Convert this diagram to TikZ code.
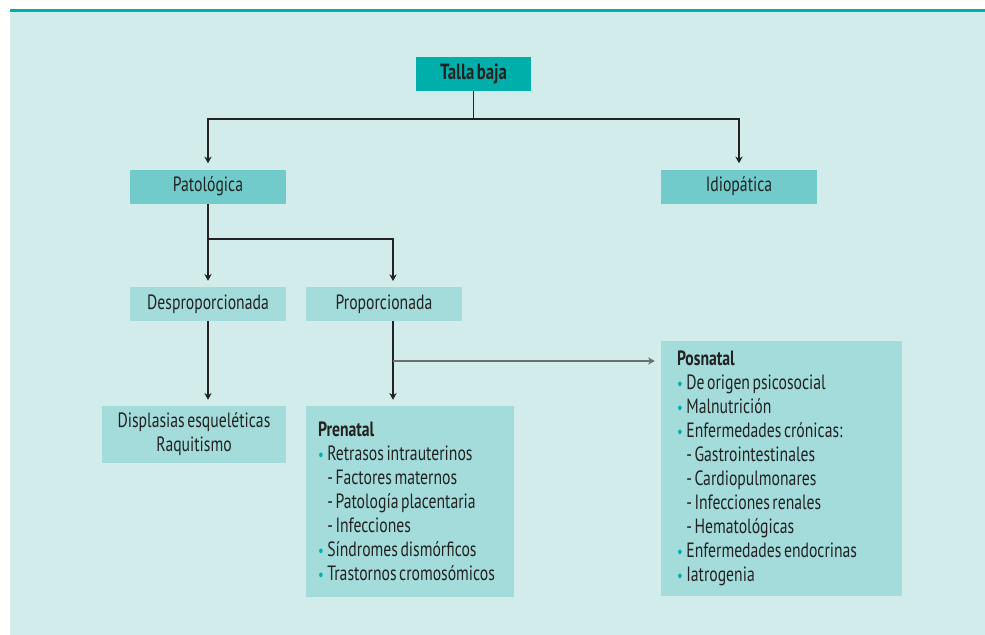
\documentclass[tikz,border=0pt]{standalone}
\usepackage{fontspec}
\setmainfont[FakeStretch=0.76,WordSpace=0.6]{PT Sans}
\usetikzlibrary{arrows.meta,positioning}
\definecolor{panel}{HTML}{D2ECEC}
\definecolor{tealdk}{HTML}{00AFAA}
\definecolor{boxmd}{HTML}{72CBCB}
\definecolor{boxlt}{HTML}{A3DCDA}
\definecolor{ink}{HTML}{222222}
\newcommand\itm[1]{\makebox[7pt][l]{\textcolor{tealdk}{\raisebox{0.3pt}{\fontsize{12.5}{12}\selectfont\textbullet}}}#1}
\newcommand\subitm[1]{\hspace*{7pt}- #1}

\begin{document}
\begin{tikzpicture}[x=0.75pt,y=-0.75pt,
  box/.style={fill=boxlt, text=ink, inner sep=0pt, minimum width=117pt, minimum height=25.5pt,
    font=\fontsize{15.5}{18}\selectfont},
  topbox/.style={box, fill=boxmd},
  listbox/.style={box, align=left},
  conn/.style={draw=ink, line width=0.8pt, -{Stealth[length=5pt,width=5.5pt]}, shorten >=4.5pt},
  line/.style={draw=ink, line width=0.8pt}]
\useasboundingbox (0,0) rectangle (985,635);
\fill[panel] (10,9) rectangle (985,635);
\fill[tealdk] (10,9) rectangle (985,12);

\node (talla) [box, fill=tealdk, minimum width=86.25pt, font=\fontsize{16.5}{18}\selectfont\bfseries] at (473.5,74) {Talla baja};
\node (pato) [topbox] at (208,186.5) {Patológica};
\node (idio) [topbox] at (739,186.5) {Idiopática};
\node (desp) [box] at (208,304) {Desproporcionada};
\node (prop) [box] at (384,304) {Proporcionada};
\node (displ) [box, align=center, minimum width=138pt, minimum height=42.75pt] at (194,434.5)
  {Displasias esqueléticas\\Raquitismo};
\node (pre) [listbox, minimum width=156pt, minimum height=143.25pt] at (410,501.5)
  {\makebox[138pt][l]{\textbf{Prenatal}}\\
   \itm{Retrasos intrauterinos}\\
   \subitm{Factores maternos}\\
   \subitm{Patología placentaria}\\
   \subitm{Infecciones}\\
   \itm{Síndromes dismórficos}\\
   \itm{Trastornos cromosómicos}};
\node (pos) [listbox, minimum width=180.75pt, minimum height=191.25pt] at (781.5,468.5)
  {\makebox[156.75pt][l]{\textbf{Posnatal}}\\
   \itm{De origen psicosocial}\\
   \itm{Malnutrición}\\
   \itm{Enfermedades crónicas:}\\
   \subitm{Gastrointestinales}\\
   \subitm{Cardiopulmonares}\\
   \subitm{Infecciones renales}\\
   \subitm{Hematológicas}\\
   \itm{Enfermedades endocrinas}\\
   \itm{Iatrogenia}};

\coordinate (split1) at (473.5,119);
\coordinate (split2) at (208,239);
\coordinate (propout) at (393,321);
\coordinate (split3) at (393,361);
\draw[line] (talla.south) -- (split1);
\draw[conn] (split1) -| (pato.north);
\draw[conn] (split1) -| (idio.north);
\draw[line] (pato.south) -- (split2);
\draw[conn] (split2) -- (desp.north);
\draw[conn] (split2) -| (393,287);
\draw[conn] (desp.south) -- (desp.south |- displ.north);
\draw[conn] (propout) -- (propout |- pre.north);
\draw[conn, draw=ink!65] (split3) -- (split3 -| pos.west);
\end{tikzpicture}
\end{document}
